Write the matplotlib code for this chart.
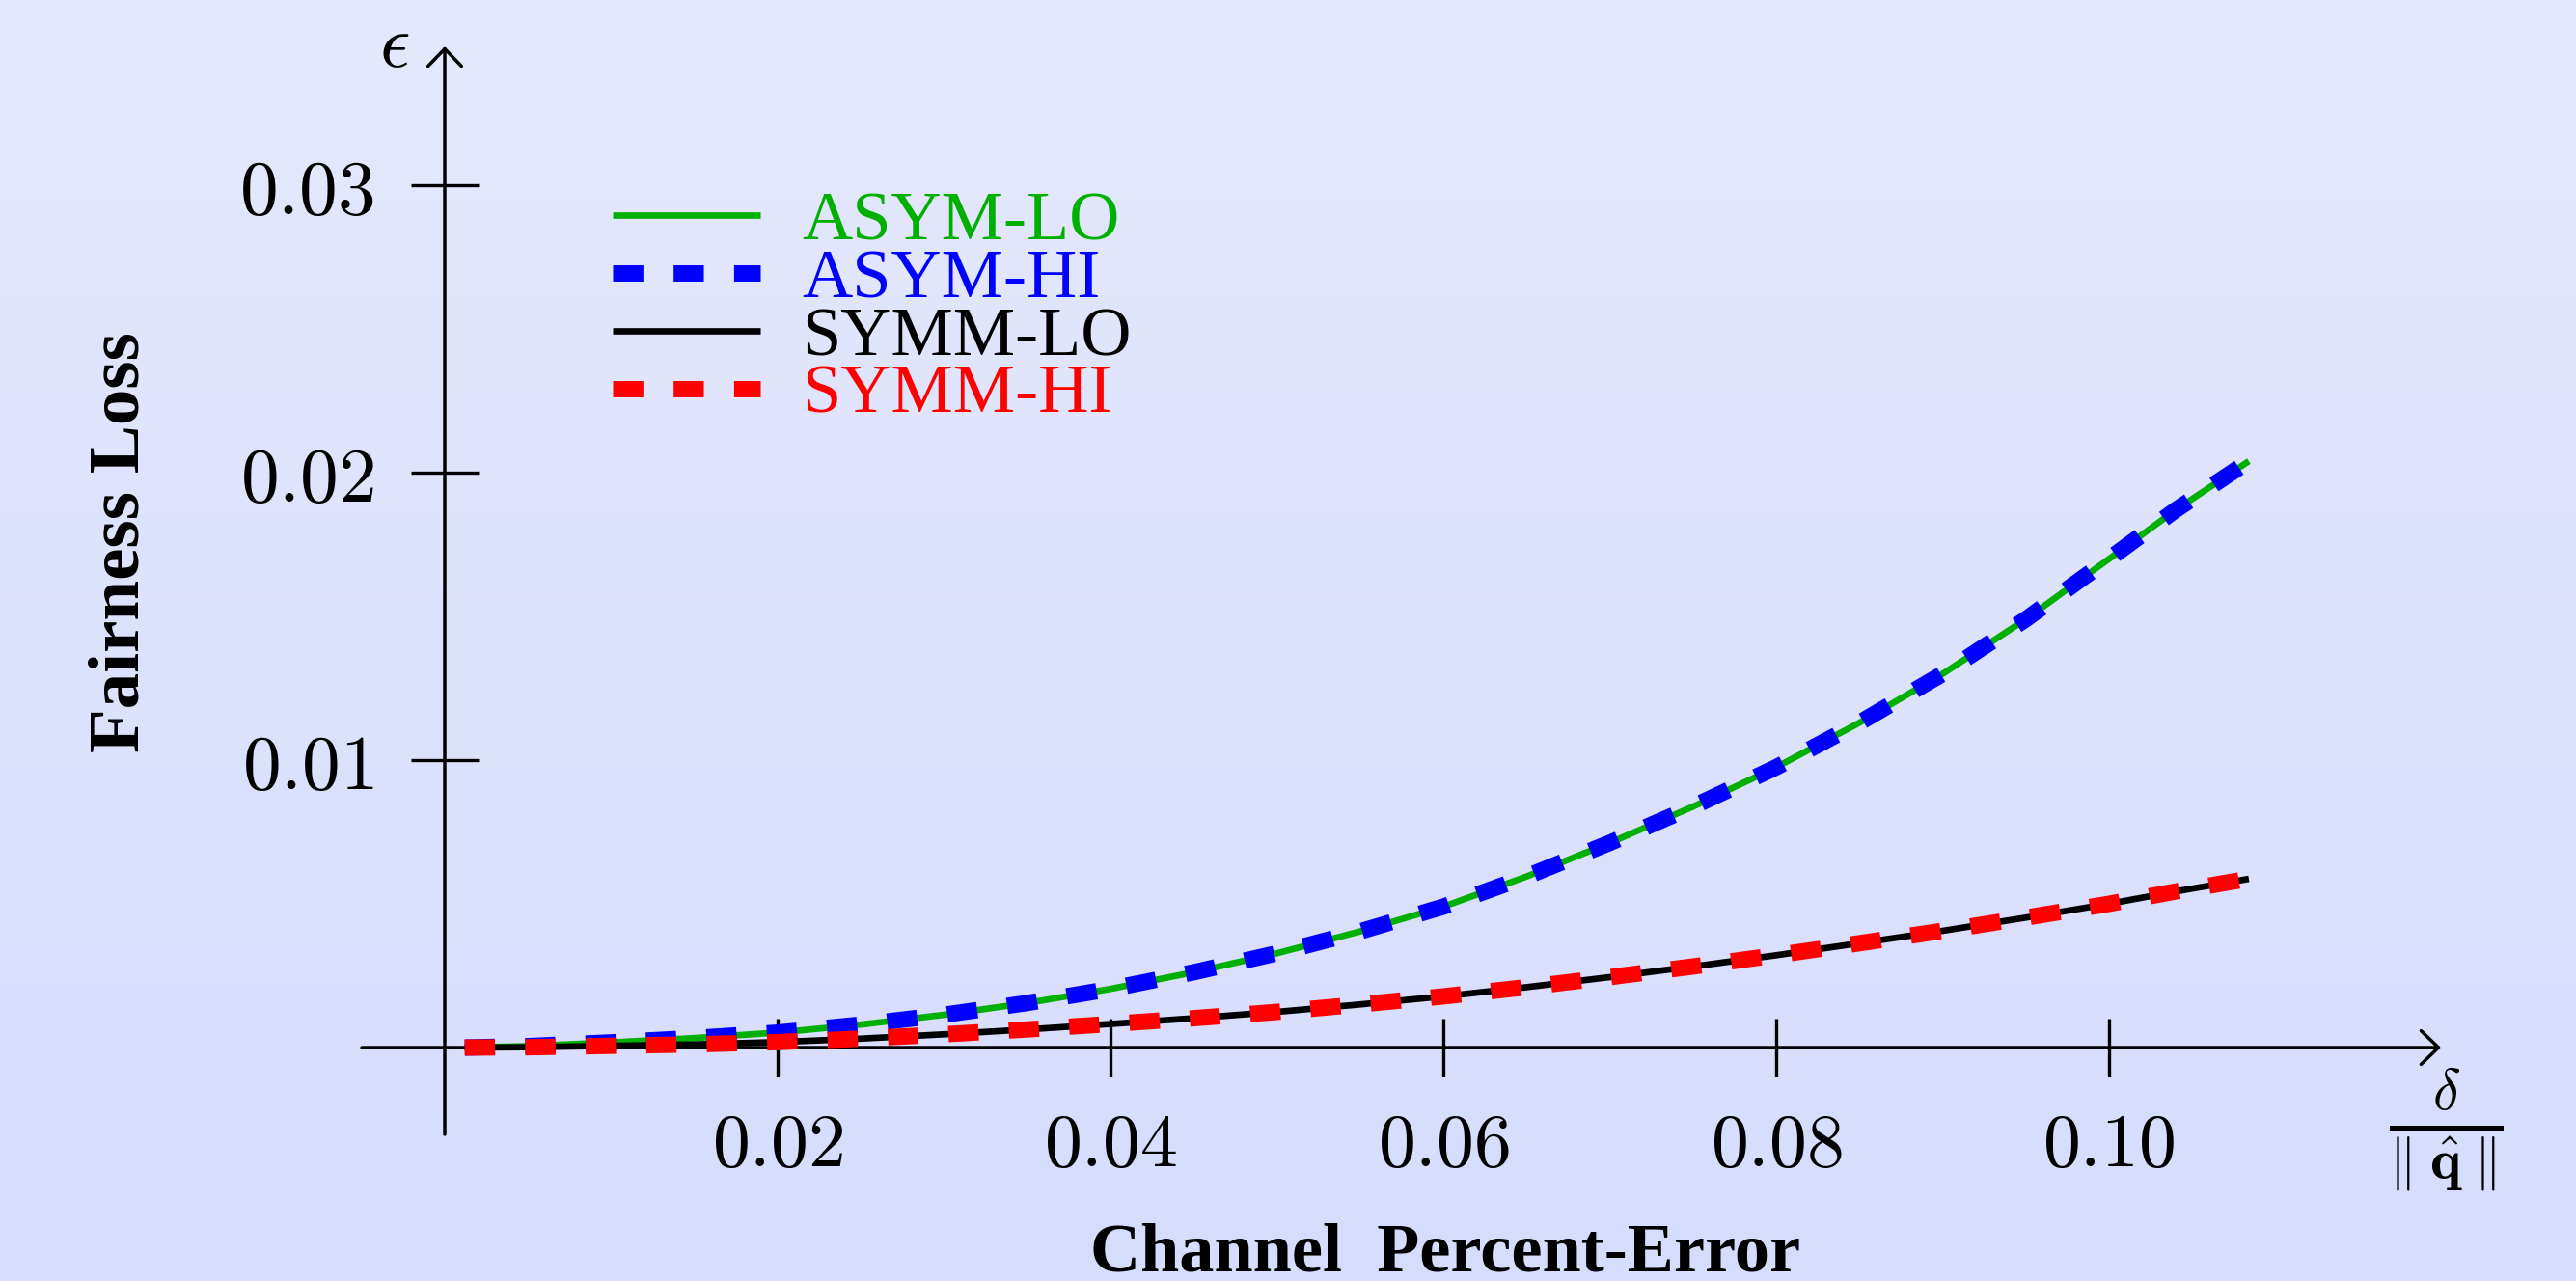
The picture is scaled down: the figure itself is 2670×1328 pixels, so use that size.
import numpy as np
import matplotlib
matplotlib.use("Agg")
import matplotlib.pyplot as plt
from matplotlib.colors import LinearSegmentedColormap
from matplotlib.font_manager import FontProperties

plt.rcParams['mathtext.fontset'] = 'cm'

# --------------------------------------
# data
# --------------------------------------
pct_error = [0.0012, 0.005, 0.010, 0.015, 0.020, 0.025, 0.030, 0.035, 0.040,
             0.045, 0.050, 0.055, 0.060, 0.065, 0.070, 0.075, 0.080, 0.085,
             0.090, 0.095, 0.100, 0.104, 0.1084]
asym_lo = [0.0, 0.00005, 0.00018, 0.00033, 0.00052, 0.00080, 0.00114, 0.00155,
           0.00204, 0.00262, 0.00328, 0.00404, 0.00490, 0.00595, 0.00712,
           0.00838, 0.00975, 0.01130, 0.01300, 0.01490, 0.01700, 0.01870, 0.02040]
asym_hi = [0.0, 0.00005, 0.00018, 0.00033, 0.00052, 0.00080, 0.00114, 0.00155,
           0.00204, 0.00262, 0.00328, 0.00404, 0.00490, 0.00595, 0.00712,
           0.00838, 0.00975, 0.01130, 0.01300, 0.01490, 0.01700, 0.01870, 0.02040]
symm_lo = [0.0, 0.00001, 0.00006, 0.00011, 0.00019, 0.00031, 0.00046, 0.00063,
           0.00082, 0.00102, 0.00124, 0.00150, 0.00178, 0.00210, 0.00245,
           0.00282, 0.00321, 0.00363, 0.00406, 0.00452, 0.00500, 0.00543, 0.00587]
symm_hi = [0.0, 0.00001, 0.00006, 0.00011, 0.00019, 0.00031, 0.00046, 0.00063,
           0.00082, 0.00102, 0.00124, 0.00150, 0.00178, 0.00210, 0.00245,
           0.00282, 0.00321, 0.00363, 0.00406, 0.00452, 0.00500, 0.00543, 0.00587]

x_ticks = [0.02, 0.04, 0.06, 0.08, 0.10]
x_tick_labels = ["0.02", "0.04", "0.06", "0.08", "0.10"]
y_ticks = [0.01, 0.02, 0.03]
y_tick_labels = ["0.01", "0.02", "0.03"]

# --------------------------------------
# figure: one axes over the whole canvas, origin placed like the original
# --------------------------------------
W, H = 2670, 1328
fig = plt.figure(figsize=(W / 100, H / 100), dpi=100)
ax = fig.add_axes([0, 0, 1, 1])
ox, oy = 461, 1086          # pixel position of the origin
sx, sy = 17250, 29800       # pixels per data unit
xlim = (-ox / sx, (W - ox) / sx)
ylim = ((oy - H) / sy, oy / sy)

# background gradient
bg = LinearSegmentedColormap.from_list("bg", ["#d6dcfc", "#e5e9fd"])
ax.imshow(np.linspace(0, 1, 256).reshape(-1, 1), cmap=bg, origin="lower",
          extent=(0, 1, 0, 1), transform=ax.transAxes, aspect="auto", zorder=-10)

green = "#00b000"
ax.plot(pct_error, asym_lo, color=green, lw=4.8, solid_capstyle="butt", label="ASYM-LO", zorder=3)
ax.plot(pct_error, asym_hi, color="blue", lw=12.2, dashes=(1.85, 1.85), label="ASYM-HI", zorder=4)
ax.plot(pct_error, symm_lo, color="black", lw=4.8, solid_capstyle="butt", label="SYMM-LO", zorder=5)
ax.plot(pct_error, symm_hi, color="red", lw=12.2, dashes=(1.85, 1.85), label="SYMM-HI", zorder=6)

ax.set_xlim(*xlim)
ax.set_ylim(*ylim)

# axes through the origin, with arrows
for s in ax.spines.values():
    s.set_visible(False)
ax.spines['left'].set_position(('data', 0))
ax.spines['bottom'].set_position(('data', 0))
arrow = dict(arrowstyle="->,head_length=0.26,head_width=0.25", lw=2.5,
             color="black", mutation_scale=50, shrinkA=0, shrinkB=0)
ax.annotate("", xy=((2530 - ox) / sx, 0), xytext=((375 - ox) / sx, 0), arrowprops=arrow, zorder=2)
ax.annotate("", xy=(0, (oy - 48) / sy), xytext=(0, (oy - 1176) / sy), arrowprops=arrow, zorder=2)

ax.set_xticks(x_ticks)
ax.set_xticklabels(["$%s$" % t for t in x_tick_labels])
ax.set_yticks(y_ticks)
ax.set_yticklabels(["$%s$" % t for t in y_tick_labels])
ax.tick_params(axis='x', direction='inout', length=43, width=2.4, pad=24, labelsize=56)
ax.tick_params(axis='y', direction='inout', length=50, width=2.4, pad=28, labelsize=57)

serif = FontProperties(family="Liberation Serif", size=52)
serif_b = FontProperties(family="Liberation Serif", size=52, weight="bold")
serif_b2 = FontProperties(family="Liberation Serif", size=54, weight="bold")

# axis symbols and labels
ax.text(409 / W, 1 - 47 / H, r"$\epsilon$", transform=fig.transFigure,
        fontsize=56, ha="center", va="center")
ax.text(2535 / W, 1 - 1172 / H,
        r"$\frac{\delta}{\left\Vert\;\hat{\mathbf{q}}\;\right\Vert}$",
        transform=fig.transFigure, fontsize=62, ha="center", va="center")
ax.text(1498 / W, 1 - 1318 / H, "Channel  Percent-Error", transform=fig.transFigure,
        fontproperties=serif_b, ha="center", va="baseline")
ax.text(143 / W, 1 - 562 / H, "Fairness Loss", transform=fig.transFigure,
        fontproperties=serif_b2, rotation=90, rotation_mode="anchor",
        ha="center", va="baseline")

leg = ax.legend(loc="upper left", bbox_to_anchor=(635 / W, 1 - 198 / H),
                bbox_transform=fig.transFigure, frameon=False, prop=serif,
                handlelength=2.12, handletextpad=0.6, labelspacing=-0.08,
                borderpad=0, borderaxespad=0, labelcolor="linecolor")

fig.savefig("out.png", dpi=100)
